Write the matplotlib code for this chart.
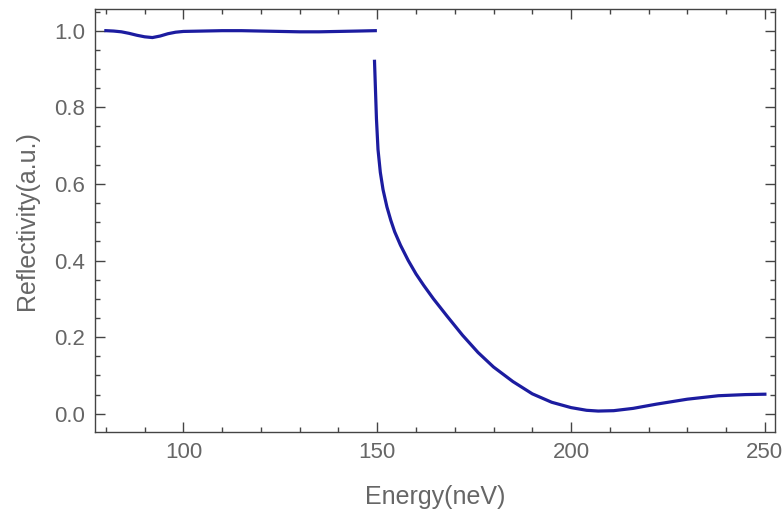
import matplotlib.pyplot as plt
from matplotlib.ticker import MultipleLocator

plt.rcParams['font.family'] = ['Liberation Sans', 'DejaVu Sans']

# total reflection plateau (below the cut-off)
e_low = [80, 82, 84, 86, 88, 90, 92, 94, 96, 98, 100, 105, 110, 115,
         120, 125, 130, 135, 140, 145, 149.5]
r_low = [1.0, 0.999, 0.997, 0.993, 0.988, 0.984, 0.982, 0.986, 0.992, 0.996,
         0.998, 0.999, 1.0, 1.0, 0.999, 0.998, 0.997, 0.997, 0.998, 0.999, 1.0]

# above the cut-off
e_high = [149.3, 149.5, 149.8, 150.2, 150.8, 151.5, 152.5, 153.5, 154.5,
          156, 158, 160, 162, 164.5, 168, 172, 176, 180, 185, 190, 195,
          200, 204, 207, 211, 216, 222, 230, 238, 245, 250]
r_high = [0.92, 0.86, 0.77, 0.69, 0.63, 0.585, 0.54, 0.505, 0.475,
          0.44, 0.40, 0.365, 0.335, 0.30, 0.255, 0.205, 0.16, 0.122, 0.084,
          0.052, 0.03, 0.016, 0.009, 0.007, 0.008, 0.014, 0.025, 0.038,
          0.047, 0.05, 0.051]

line_col = '#1c1ca0'
txt_col = '#666666'

fig = plt.figure(figsize=(7.82, 5.12), dpi=100)
ax = fig.add_axes([0.1215, 0.156, 0.8695, 0.826])

ax.plot(e_low, r_low, color=line_col, lw=2.3)
ax.plot(e_high, r_high, color=line_col, lw=2.3)

ax.set_xlim(77.2, 252.6)
ax.set_ylim(-0.048, 1.056)

ax.xaxis.set_major_locator(MultipleLocator(50))
ax.xaxis.set_minor_locator(MultipleLocator(10))
ax.yaxis.set_major_locator(MultipleLocator(0.2))
ax.yaxis.set_minor_locator(MultipleLocator(0.05))
ax.yaxis.set_major_formatter(plt.FuncFormatter(lambda v, p: '%.1f' % v))

ax.tick_params(which='both', direction='in', top=True, right=True,
               color='#444444', width=1, labelcolor=txt_col, labelsize=16)
ax.tick_params(which='major', length=7, pad=7)
ax.tick_params(which='minor', length=3.5)
for s in ax.spines.values():
    s.set_color('#444444')
    s.set_linewidth(1)

ax.set_xlabel('Energy(neV)', color=txt_col, fontsize=18, labelpad=16)
ax.set_ylabel('Reflectivity(a.u.)', color=txt_col, fontsize=18, labelpad=11)

fig.savefig('out.png', dpi=100)
